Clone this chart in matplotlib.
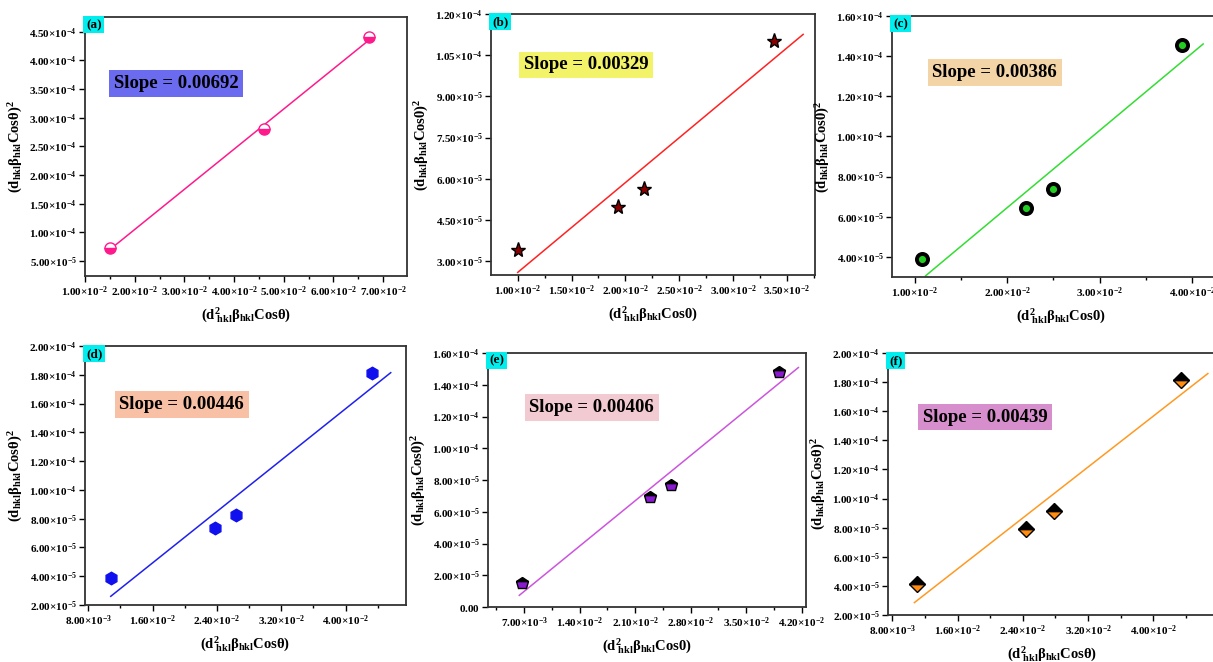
import math

import matplotlib
matplotlib.use("Agg")
import matplotlib.pyplot as plt
import numpy as np
from matplotlib.ticker import FuncFormatter, MultipleLocator, AutoMinorLocator

plt.rcParams["font.family"] = ["Liberation Serif", "DejaVu Serif"]
plt.rcParams["font.weight"] = "bold"
plt.rcParams["mathtext.fontset"] = "custom"
plt.rcParams["mathtext.rm"] = "Liberation Serif"
plt.rcParams["mathtext.it"] = "Liberation Serif:italic"
plt.rcParams["mathtext.bf"] = "Liberation Serif:bold"

# --- data (x = d^2 beta cos, y = (d beta cos)^2) ---
labels = ["(a)", "(b)", "(c)", "(d)", "(e)", "(f)"]
slopes = ["0.00692", "0.00329", "0.00386", "0.00446", "0.00406", "0.00439"]

x_a = [0.0150, 0.0460, 0.0672]
y_a = [7.3e-5, 2.80e-4, 4.40e-4]
x_b = [0.0100, 0.0193, 0.0217, 0.0338]
y_b = [3.40e-5, 4.96e-5, 5.61e-5, 1.103e-4]
x_c = [0.0108, 0.0221, 0.0250, 0.0389]
y_c = [3.90e-5, 6.42e-5, 7.38e-5, 1.456e-4]
x_d = [0.0108, 0.0237, 0.0264, 0.0433]
y_d = [3.88e-5, 7.38e-5, 8.26e-5, 1.814e-4]
x_e = [0.0068, 0.0229, 0.0255, 0.0391]
y_e = [1.53e-5, 6.92e-5, 7.67e-5, 1.483e-4]
x_f = [0.0110, 0.0244, 0.0278, 0.0434]
y_f = [4.13e-5, 7.88e-5, 9.12e-5, 1.817e-4]

# x span of each fitted line
fit_span = [(0.0150, 0.0672), (0.0100, 0.0365), (0.0112, 0.0412),
            (0.0108, 0.0456), (0.0064, 0.0416), (0.0107, 0.0467)]

xs = [x_a, x_b, x_c, x_d, x_e, x_f]
ys = [y_a, y_b, y_c, y_d, y_e, y_f]

# --- styling per panel ---
line_colors = ["#ff1a8c", "#ff2222", "#33dd33", "#2020ee", "#cc55dd", "#ff9922"]
box_colors = ["#6b6bf0", "#f3f36a", "#f3d4a6", "#f8c0a4", "#f2cad2", "#d68fcc"]
markers = [
    dict(marker="o", mfc="#ff1a8c", mfcalt="white", mec="#ff1a8c", fillstyle="bottom", ms=8),
    dict(marker="*", mfc="#8b0000", mec="black", fillstyle="full", ms=11),
    dict(marker="o", mfc="#22cc22", mec="black", fillstyle="full", ms=8, mew=2.8),
    dict(marker="h", mfc="#1010ee", mec="#1010ee", fillstyle="full", ms=9),
    dict(marker="p", mfc="#8a1ad0", mfcalt="black", mec="black", fillstyle="bottom", ms=9),
    dict(marker="D", mfc="#ff8c10", mfcalt="black", mec="black", fillstyle="bottom", ms=8),
]

W, H = 1213, 662
# axes boxes in pixels: left, right, top, bottom
boxes = [(85, 407, 17, 276), (491, 815, 14, 275), (892, 1230, 16, 277),
         (85, 406, 346, 605), (488, 806, 353, 607), (888, 1216, 353, 615)]
xlims = [(0.0100, 0.0748), (0.00752, 0.0376), (0.00756, 0.0441),
         (0.0076, 0.0475), (0.00245, 0.04256), (0.00746, 0.0477)]
ylims = [(2.4e-5, 4.756e-4), (2.49e-5, 1.2e-4), (3.0e-5, 1.6e-4),
         (2.0e-5, 2.0e-4), (0.0, 1.6e-4), (2.0e-5, 2.0e-4)]
xsteps = [0.01, 0.005, 0.01, 0.008, 0.007, 0.008]
ysteps = [5e-5, 1.5e-5, 2e-5, 2e-5, 2e-5, 2e-5]
slope_pos = [(0.284, 0.743), (0.293, 0.805), (0.304, 0.783),
             (0.301, 0.774), (0.326, 0.785), (0.297, 0.755)]
x_theta = ["\\theta", "0", "0", "\\theta", "0", "\\theta"]


def sci(v, pos=None):
    if abs(v) < 1e-12:
        return r"$\mathbf{0.00}$"
    e = int(math.floor(math.log10(abs(v)) + 1e-9))
    m = v / 10 ** e
    if round(m, 2) >= 10:
        m /= 10
        e += 1
    return r"$\mathbf{%.2f{\times}10^{%d}}$" % (m, e)


fig = plt.figure(figsize=(W / 100, H / 100), dpi=100)

for i in range(6):
    l, r, t, b = boxes[i]
    ax = fig.add_axes([l / W, 1 - b / H, (r - l) / W, (b - t) / H])
    x = np.array(xs[i])
    y = np.array(ys[i])
    k, c0 = np.polyfit(x, y, 1)
    fx = np.array(fit_span[i])
    ax.plot(fx, k * fx + c0, color=line_colors[i], lw=1.1, zorder=2)

    m = markers[i]
    kw = dict(marker=m["marker"], ms=m["ms"], mfc=m["mfc"], mec=m["mec"],
              fillstyle=m["fillstyle"], ls="none", mew=m.get("mew", 1.0), zorder=3)
    if "mfcalt" in m:
        kw["markerfacecoloralt"] = m["mfcalt"]
    ax.plot(x, y, **kw)

    ax.set_xlim(*xlims[i])
    ax.set_ylim(*ylims[i])
    ax.xaxis.set_major_locator(MultipleLocator(xsteps[i]))
    ax.xaxis.set_minor_locator(AutoMinorLocator(2))
    ax.yaxis.set_major_locator(MultipleLocator(ysteps[i]))
    ax.xaxis.set_major_formatter(FuncFormatter(sci))
    ax.yaxis.set_major_formatter(FuncFormatter(sci))
    ax.tick_params(axis="both", which="major", direction="out", length=4, width=1,
                   labelsize=8, pad=2, top=False, right=False)
    ax.tick_params(axis="x", which="minor", direction="out", length=2.5, width=1,
                   top=False)
    for s in ax.spines.values():
        s.set_color("#333333")
        s.set_linewidth(1.3)

    ax.set_ylabel(r"$\mathbf{(d_{hkl}\beta_{hkl}Cos%s)^{2}}$" % x_theta[i],
                  fontsize=10.5, labelpad=3)
    ax.set_xlabel(r"$\mathbf{(d^{2}_{\ hkl}\beta_{hkl}Cos%s)}$" % x_theta[i],
                  fontsize=10.5, labelpad=5)

    ax.text(0.003, 0.993, labels[i], transform=ax.transAxes, ha="left", va="top",
            fontsize=9.5, fontweight="bold",
            bbox=dict(boxstyle="square,pad=0.2", fc="#00eeee", ec="none"), zorder=5)
    sx, sy = slope_pos[i]
    ax.text(sx, sy, "Slope = " + slopes[i], transform=ax.transAxes,
            ha="center", va="center", fontsize=13.5, fontweight="bold",
            bbox=dict(boxstyle="square,pad=0.25", fc=box_colors[i], ec="none"),
            zorder=5)

fig.savefig("out.png", dpi=100)
